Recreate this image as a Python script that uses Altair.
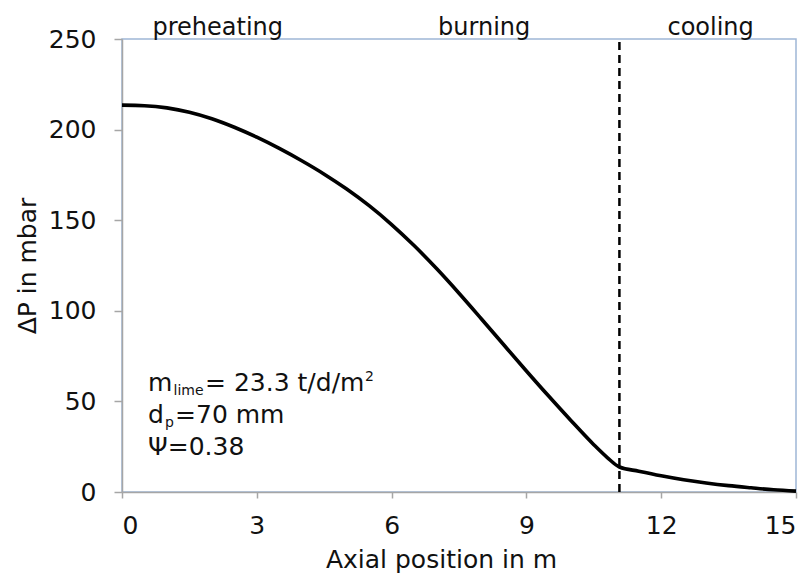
import altair as alt
import pandas as pd

# Axial position (m) and pressure drop (mbar)
pos = [0, 0.5, 1, 1.5, 2, 2.5, 3, 3.5, 4, 4.5, 5, 5.5, 6, 6.5, 7, 7.5, 8, 8.5,
       9, 9.5, 10, 10.5, 10.8, 11.07, 11.5, 12, 12.5, 13, 13.5, 14, 14.5, 15]
dp = [213.5, 213.2, 212.0, 209.6, 206.0, 201.3, 195.8, 189.6, 182.8, 175.4, 167.2,
      158.0, 147.6, 136.0, 123.3, 109.7, 95.5, 81.1, 66.8, 52.8, 39.2, 26.1, 19.0,
      13.8, 11.5, 9.0, 6.8, 5.0, 3.5, 2.3, 1.2, 0.5]

zone_names = ["preheating", "burning", "cooling"]
zone_centers = [2.13, 8.06, 13.1]
cooling_start = [11.07]

x_ticks = [0, 3, 6, 9, 12, 15]
y_ticks = [0, 50, 100, 150, 200, 250]

FONT = "DejaVu Sans"

curve_df = pd.DataFrame({"x": pos, "y": dp})
zones_df = pd.DataFrame({"name": zone_names, "x": zone_centers, "y": [250] * 3})
rule_df = pd.DataFrame({"x": cooling_start, "y": [0], "y2": [250]})

xscale = alt.Scale(domain=[0, 15], nice=False, zero=False)
yscale = alt.Scale(domain=[0, 250], nice=False)

base = alt.Chart(curve_df)

line = base.mark_line(color="black", strokeWidth=3.6, interpolate="monotone").encode(
    x=alt.X("x:Q", scale=xscale,
            axis=alt.Axis(title="Axial position in m", values=x_ticks, grid=False,
                          tickSize=6, labelPadding=15, titlePadding=9, titleX=319)),
    y=alt.Y("y:Q", scale=yscale,
            axis=alt.Axis(title="ΔP in mbar", values=y_ticks, grid=False,
                          tickSize=8, labelPadding=18, titlePadding=8)),
)

rule = alt.Chart(rule_df).mark_rule(color="black", strokeWidth=2.5, strokeDash=[8, 5]).encode(
    x="x:Q", y="y:Q", y2="y2:Q"
)

zones = alt.Chart(zones_df).mark_text(font=FONT, fontSize=24, color="#111",
                                      baseline="alphabetic", dy=-4).encode(
    x="x:Q", y="y:Q", text="name:N"
)

ax0 = 0.58
ann_rows = [55.9, 38.2, 20.6]


def txt(s, y, dx, size, dy=0):
    return alt.Chart(pd.DataFrame({"x": [ax0], "y": [y], "t": [s]})).mark_text(
        font=FONT, fontSize=size, color="#111", align="left", baseline="alphabetic",
        dx=dx, dy=dy
    ).encode(x="x:Q", y="y:Q", text="t:N")


ann = (
    txt("m", ann_rows[0], 0, 25)
    + txt("lime", ann_rows[0], 25.5, 14, dy=4)
    + txt("= 23.3 t/d/m", ann_rows[0], 57, 25)
    + txt("2", ann_rows[0], 217, 14, dy=-10)
    + txt("d", ann_rows[1], 0, 25)
    + txt("p", ann_rows[1], 17, 14, dy=4)
    + txt("=70 mm", ann_rows[1], 27, 25)
    + txt("Ψ=0.38", ann_rows[2], 0, 25)
)

chart = (
    alt.layer(line, rule, zones, ann)
    .properties(
        width=674, height=453,
        padding={"left": 122, "top": 39, "right": 16, "bottom": 83},
        autosize="none",
        background="white",
    )
    .configure_view(stroke="#9fb6d6", strokeWidth=1.5)
    .configure_axis(
        domainColor="#a6a6a6", domainWidth=1.5, tickColor="#a6a6a6", tickWidth=1.5,
        labelFont=FONT, labelFontSize=25, labelColor="#111",
        titleFont=FONT, titleFontSize=25, titleColor="#111", titleFontWeight="normal",
    )
)

chart.save("out.html", embed_options={"renderer": "svg", "actions": False})
